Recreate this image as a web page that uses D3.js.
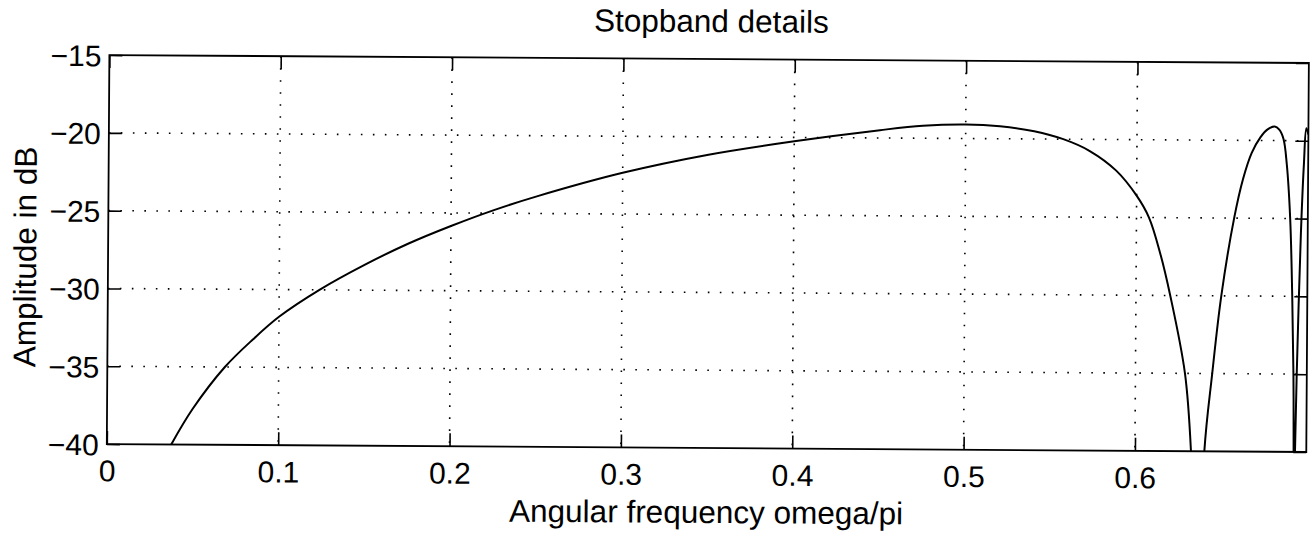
<!DOCTYPE html>
<html>
<head>
<meta charset="utf-8">
<script src="https://cdn.jsdelivr.net/npm/d3@7/dist/d3.min.js"></script>
<style>
  body { margin: 0; background: #fff; }
  text { font-family: "Liberation Sans", Arial, sans-serif; fill: #000; }
  .frame { fill: none; stroke: #000; stroke-width: 1.8; }
  .grid line { stroke: #000; stroke-width: 1.6; stroke-dasharray: 1.6, 10.4; }
  .tick-mark { stroke: #000; stroke-width: 1.6; }
  .line { fill: none; stroke: #000; stroke-width: 2; }
</style>
</head>
<body>
<svg class="chart"></svg>
<script>
// frequency (omega/pi) and amplitude (dB)
var freq = [0.0376, 0.05, 0.0686, 0.085, 0.1, 0.1235, 0.15, 0.175, 0.2, 0.225,
  0.25, 0.3, 0.35, 0.4, 0.45, 0.475, 0.5, 0.52, 0.54, 0.557,
  0.5725, 0.588, 0.6, 0.6073, 0.614, 0.62, 0.6289, 0.6327, 0.6367, 0.6405, 0.6448,
  0.6498, 0.657, 0.662, 0.667, 0.672, 0.676, 0.6803, 0.683, 0.6855, 0.6875,
  0.6897, 0.6912, 0.6922, 0.6926, 0.693, 0.6934, 0.6945, 0.696, 0.6975, 0.6988, 0.7];
var ampDb = [-40, -37.7, -35, -33.2, -31.75, -30, -28.36, -27.0, -25.84, -24.8,
  -23.9, -22.35, -21.15, -20.25, -19.5, -19.2, -19.1, -19.2, -19.5, -20,
  -20.75, -22.0, -23.6, -25, -27.3, -30, -35, -40, -55, -40, -35,
  -30, -25, -22.5, -20.8, -19.8, -19.3, -19.1, -19.3, -19.9, -21.5,
  -25, -30, -35, -40, -52, -40, -33, -26, -21.5, -19.2, -19.6];

var xTicks = [0, 0.1, 0.2, 0.3, 0.4, 0.5, 0.6];
var yTicks = [-40, -35, -30, -25, -20, -15];
var xTickLabels = ["0", "0.1", "0.2", "0.3", "0.4", "0.5", "0.6"];
var yTickLabels = ["\u221240", "\u221235", "\u221230", "\u221225", "\u221220", "\u221215"];

var W = 1312, H = 533;
var margin = { top: 59, right: 4.5, bottom: 85, left: 108 },
  width = W - margin.left - margin.right,
  height = H - margin.top - margin.bottom;

var x = d3.scaleLinear().domain([0, 0.7]).range([0, width]);
var y = d3.scaleLinear().domain([-40, -15]).range([height, 0]);

var data = freq.map(function(f, i) { return { f: f, a: ampDb[i] }; });

var line = d3.line()
  .x(function(d) { return x(d.f); })
  .y(function(d) { return y(d.a); })
  .curve(d3.curveCatmullRom.alpha(0.5));

var root = d3.select(".chart")
  .attr("width", W)
  .attr("height", H);

root.append("rect").attr("width", W).attr("height", H).attr("fill", "#fff");

// the scan is tilted a little
var page = root.append("g")
  .attr("transform", "rotate(0.38," + (W / 2 + 50) + "," + (H / 2) + ")");

var svg = page.append("g")
  .attr("transform", "translate(" + margin.left + "," + margin.top + ")");

svg.append("clipPath").attr("id", "clip")
  .append("rect").attr("width", width).attr("height", height);

// dotted grid
var grid = svg.append("g").attr("class", "grid");
grid.selectAll(".gx")
  .data(xTicks.slice(1))
  .enter().append("line")
    .attr("x1", function(d) { return x(d); })
    .attr("x2", function(d) { return x(d); })
    .attr("y1", 0)
    .attr("y2", height);
grid.selectAll(".gy")
  .data(yTicks.slice(1, -1))
  .enter().append("line")
    .attr("x1", 0)
    .attr("x2", width)
    .attr("y1", function(d) { return y(d); })
    .attr("y2", function(d) { return y(d); });

// inward ticks on all four sides
var tl = 13;
var xAxisB = d3.axisBottom(x).tickValues(xTicks).tickSizeInner(-tl).tickSizeOuter(0)
  .tickFormat(function(d, i) { return xTickLabels[i]; });
var xAxisT = d3.axisTop(x).tickValues(xTicks).tickSizeInner(-tl).tickSizeOuter(0).tickFormat("");
var yAxisL = d3.axisLeft(y).tickValues(yTicks).tickSizeInner(-tl).tickSizeOuter(0)
  .tickFormat(function(d, i) { return yTickLabels[i]; });
var yAxisR = d3.axisRight(y).tickValues(yTicks).tickSizeInner(-tl).tickSizeOuter(0).tickFormat("");

function style(g) {
  g.select(".domain").remove();
  g.selectAll(".tick line").attr("class", "tick-mark");
  g.selectAll(".tick text").style("font-size", "30px").attr("fill", "#000");
}

svg.append("g").attr("transform", "translate(0," + height + ")").call(xAxisB).call(style)
  .selectAll(".tick text").attr("dy", "0.71em").attr("y", 16);
svg.append("g").call(xAxisT).call(style);
svg.append("g").call(yAxisL).call(style)
  .selectAll(".tick text").attr("x", -8).attr("dy", "0.36em");
svg.append("g").attr("transform", "translate(" + width + ",0)").call(yAxisR).call(style);

svg.append("path")
  .datum(data)
  .attr("class", "line")
  .attr("clip-path", "url(#clip)")
  .attr("d", line);

svg.append("rect")
  .attr("class", "frame")
  .attr("width", width)
  .attr("height", height);

// labels
svg.append("text")
  .attr("x", width / 2 + 2)
  .attr("y", -27)
  .attr("text-anchor", "middle")
  .style("font-size", "31.5px")
  .text("Stopband details");

svg.append("text")
  .attr("x", width / 2)
  .attr("y", height + 75)
  .attr("text-anchor", "middle")
  .style("font-size", "31.5px")
  .text("Angular frequency omega/pi");

svg.append("text")
  .attr("transform", "translate(-72," + (height / 2 + 8) + ") rotate(-90)")
  .attr("text-anchor", "middle")
  .style("font-size", "31.5px")
  .text("Amplitude in dB");
</script>
</body>
</html>
